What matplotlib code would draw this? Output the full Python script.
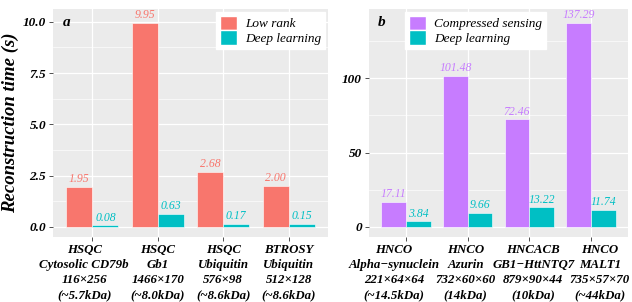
import matplotlib
matplotlib.use("Agg")
import matplotlib.pyplot as plt
from matplotlib.patches import Patch
from matplotlib.ticker import MultipleLocator, FormatStrFormatter
from matplotlib.transforms import ScaledTranslation
import numpy as np

plt.rcParams['font.family'] = ['Liberation Serif', 'DejaVu Serif']

# panel a
cats_a = ["HSQC\nCytosolic CD79b\n116×256\n(~5.7kDa)",
          "HSQC\nGb1\n1466×170\n(~8.0kDa)",
          "HSQC\nUbiquitin\n576×98\n(~8.6kDa)",
          "BTROSY\nUbiquitin\n512×128\n(~8.6kDa)"]
low_rank = [1.95, 9.95, 2.68, 2.00]
deep_a = [0.08, 0.63, 0.17, 0.15]

# panel b
cats_b = ["HNCO\nAlpha−synuclein\n221×64×64\n(~14.5kDa)",
          "HNCO\nAzurin\n732×60×60\n(14kDa)",
          "HNCACB\nGB1−HttNTQ7\n879×90×44\n(10kDa)",
          "HNCO\nMALT1\n735×57×70\n(~44kDa)"]
comp_sensing = [17.11, 101.48, 72.46, 137.29]
deep_b = [3.84, 9.66, 13.22, 11.74]

RED = "#F8766D"
TEAL = "#00BFC4"
PURPLE = "#C77CFF"
PANEL = "#EBEBEB"


def draw(ax, cats, first, second, c1, c2, names, major, yfmt, label, legend_loc, shifts):
    x = np.arange(1, len(cats) + 1)
    w = 0.4
    ax.bar(x - w / 2, first, w, color=c1, edgecolor="white", linewidth=0.4, zorder=3)
    ax.bar(x + w / 2, second, w, color=c2, edgecolor="white", linewidth=0.4, zorder=3)
    top = max(first)
    off = top * 0.008
    for xi, v in zip(x - w / 2, first):
        ax.text(xi, v + off, "{:.2f}".format(v), ha="center", va="bottom", color=c1,
                fontsize=8.5, style="italic", zorder=4)
    for xi, v in zip(x + w / 2, second):
        ax.text(xi, v + off, "{:.2f}".format(v), ha="center", va="bottom", color=c2,
                fontsize=8.5, style="italic", zorder=4)

    ax.set_facecolor(PANEL)
    ax.set_xlim(0.4, len(cats) + 0.6)
    ax.set_ylim(-0.049 * top, 1.068 * top)
    ax.yaxis.set_major_locator(MultipleLocator(major))
    ax.yaxis.set_minor_locator(MultipleLocator(major / 2))
    ax.yaxis.set_major_formatter(FormatStrFormatter(yfmt))
    ax.set_xticks(x)
    ax.set_xticks(np.arange(0.5, len(cats) + 1, 1), minor=True)
    ax.tick_params(axis="x", which="minor", length=0)
    ax.tick_params(axis="y", which="minor", length=0)
    ax.tick_params(which="major", length=3, color="#333333", width=0.6, pad=2)
    ax.tick_params(axis="y", labelsize=9.5)
    ax.set_xticklabels(cats, fontsize=9.3, fontweight="bold", style="italic",
                       linespacing=1.34)
    # nudge the long multi-line labels sideways so they do not collide
    for t, dx in zip(ax.get_xticklabels(), shifts):
        t.set_transform(t.get_transform() + ScaledTranslation(dx / 100, 0, ax.figure.dpi_scale_trans))
    for t in ax.get_yticklabels():
        t.set_fontweight("bold")
        t.set_fontstyle("italic")
    ax.grid(True, which="major", color="white", linewidth=0.9, zorder=0)
    ax.grid(True, which="minor", axis="y", color="white", linewidth=0.45, zorder=0)
    ax.set_axisbelow(True)
    for s in ax.spines.values():
        s.set_visible(False)
    ax.text(0.035, 0.97, label, transform=ax.transAxes, fontsize=11,
            fontweight="bold", style="italic", va="top", ha="left")
    handles = [Patch(facecolor=c1, edgecolor="white"), Patch(facecolor=c2, edgecolor="white")]
    leg = ax.legend(handles, names, loc=legend_loc, fontsize=9.5, frameon=True,
                    fancybox=False, framealpha=1, edgecolor="white",
                    handlelength=1.3, handleheight=1.35, handletextpad=0.6,
                    borderpad=0.3, labelspacing=0.0, borderaxespad=0.2)
    for t in leg.get_texts():
        t.set_fontstyle("italic")
    return leg


fig = plt.figure(figsize=(6.32, 3.02), dpi=100)
ax1 = fig.add_axes([53 / 632, 65 / 302, 275 / 632, 228 / 302])
ax2 = fig.add_axes([369 / 632, 65 / 302, 259 / 632, 228 / 302])

draw(ax1, cats_a, low_rank, deep_a, RED, TEAL, ["Low rank", "Deep learning"],
     2.5, "%.1f", "a", "upper right", [-8, 0, 0, 0])
ax1.set_ylabel("Reconstruction time (s)", fontsize=13.5, fontweight="bold",
               style="italic", labelpad=3)

leg2 = draw(ax2, cats_b, comp_sensing, deep_b, PURPLE, TEAL,
            ["Compressed sensing", "Deep learning"], 50, "%d", "b", "upper left",
            [-12, -2, 4, 9])
leg2.set_bbox_to_anchor((0.13, 1.0))

fig.savefig("out.png", dpi=100)
